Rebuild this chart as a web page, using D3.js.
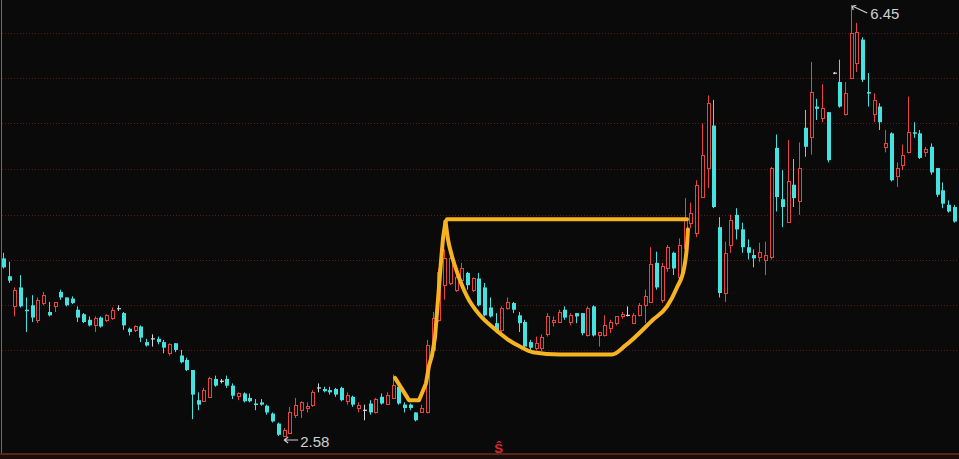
<!DOCTYPE html>
<html><head><meta charset="utf-8">
<script src="https://cdn.jsdelivr.net/npm/d3@7/dist/d3.min.js"></script>
<style>html,body{margin:0;padding:0;background:#0b0a0b;overflow:hidden}</style>
</head><body><svg id="chart" width="959" height="459"></svg>
<script>
const categories = d3.range(1, 168).map(d => "D" + d);
const open = [4.18,4.02,3.75,3.92,3.72,3.76,3.63,3.78,3.70,3.75,3.88,3.83,3.82,3.72,3.68,3.63,3.58,3.65,3.63,3.65,
3.73,3.69,3.55,3.54,3.57,3.43,3.46,3.46,3.43,3.33,3.42,3.31,3.27,3.18,2.91,2.90,2.94,3.10,3.08,3.10,
3.04,2.95,2.97,2.93,2.88,2.89,2.86,2.79,2.70,2.59,2.62,2.78,2.82,2.84,2.87,3.02,3.01,3.00,3.01,3.02,
2.90,2.94,2.84,2.82,2.88,2.80,2.94,2.88,2.93,3.03,2.87,2.87,2.80,2.80,2.80,3.36,3.63,3.94,3.96,3.90,
3.99,4.05,3.90,4.00,3.92,3.74,3.60,3.54,3.74,3.78,3.67,3.61,3.43,3.38,3.38,3.50,3.61,3.61,3.72,3.61,
3.69,3.69,3.49,3.75,3.49,3.49,3.56,3.60,3.66,3.67,3.60,3.67,3.76,3.79,4.14,3.81,4.09,4.23,4.01,4.27,
4.50,4.41,4.73,4.99,5.37,4.46,3.87,4.30,4.57,4.44,4.28,4.21,4.19,4.17,4.19,5.17,4.71,4.51,4.84,4.69,
5.35,5.27,5.54,5.44,5.49,5.84,5.76,5.47,5.80,5.93,6.14,5.67,5.47,5.54,5.18,5.30,4.92,5.02,5.13,5.31,
5.30,5.13,5.18,4.99,4.79,4.66,4.64];
const high = [4.23,4.15,3.92,4.03,3.83,3.85,3.83,3.88,3.79,3.79,3.90,3.83,3.84,3.75,3.69,3.66,3.66,3.66,3.68,3.74,
3.76,3.70,3.56,3.58,3.58,3.46,3.50,3.48,3.45,3.42,3.42,3.36,3.29,3.18,2.98,3.02,3.12,3.13,3.10,3.13,
3.06,2.98,2.98,2.97,2.92,2.92,2.87,2.80,2.71,2.66,2.85,2.93,2.90,2.89,3.00,3.06,3.03,3.03,3.02,3.03,
2.98,2.95,2.89,2.87,2.91,2.93,2.97,2.98,3.14,3.05,2.89,2.88,2.80,2.87,3.45,3.70,4.09,4.26,4.21,4.03,
4.14,4.06,4.01,4.05,3.96,3.83,3.69,3.75,3.83,3.79,3.70,3.63,3.45,3.48,3.50,3.69,3.66,3.72,3.75,3.69,
3.69,3.69,3.75,3.76,3.52,3.67,3.63,3.66,3.70,3.75,3.69,3.78,3.90,4.28,4.24,4.14,4.30,4.24,4.36,4.72,
4.68,4.88,5.39,5.64,5.60,4.55,4.33,4.57,4.63,4.50,4.35,4.26,4.32,4.33,5.00,5.29,4.97,5.24,5.07,5.22,
5.51,5.94,5.61,5.74,5.49,5.85,5.96,5.76,6.45,6.29,6.16,5.84,5.66,5.57,5.33,5.31,5.04,5.20,5.63,5.40,
5.33,5.18,5.21,4.99,4.86,4.70,4.66];
const low = [4.09,3.96,3.66,3.74,3.52,3.61,3.60,3.76,3.66,3.70,3.81,3.75,3.77,3.61,3.60,3.57,3.52,3.56,3.61,3.63,
3.71,3.54,3.49,3.52,3.43,3.39,3.39,3.41,3.33,3.31,3.34,3.24,3.17,2.74,2.82,2.90,2.94,3.03,3.06,3.02,
2.92,2.91,2.89,2.89,2.82,2.86,2.78,2.71,2.59,2.58,2.62,2.75,2.75,2.80,2.85,2.98,2.98,2.96,2.94,2.90,
2.87,2.85,2.80,2.73,2.78,2.79,2.87,2.87,2.92,2.87,2.80,2.82,2.72,2.80,2.79,3.34,3.61,3.81,3.94,3.88,
3.96,3.90,3.88,3.75,3.66,3.65,3.51,3.52,3.72,3.69,3.52,3.38,3.36,3.36,3.35,3.48,3.57,3.60,3.63,3.58,
3.60,3.49,3.48,3.48,3.39,3.48,3.51,3.58,3.64,3.66,3.60,3.66,3.60,3.78,3.90,3.78,4.06,4.03,3.99,4.26,
4.45,4.37,4.72,4.81,4.63,3.83,3.79,4.23,4.35,4.23,4.17,4.10,4.15,4.03,4.17,4.60,4.46,4.50,4.64,4.57,
5.09,5.11,5.42,5.40,5.04,5.83,5.53,5.46,5.79,5.85,5.76,5.54,5.40,5.33,5.13,4.87,4.82,4.97,5.12,5.26,
5.07,5.09,4.93,4.73,4.63,4.59,4.50];
const close = [4.10,3.98,3.90,3.75,3.71,3.65,3.81,3.85,3.67,3.79,3.83,3.76,3.78,3.65,3.61,3.58,3.65,3.57,3.67,3.72,
3.73,3.58,3.52,3.57,3.47,3.40,3.46,3.43,3.38,3.41,3.36,3.25,3.18,2.96,2.87,3.00,3.11,3.04,3.08,3.04,
2.95,2.97,2.90,2.90,2.87,2.87,2.80,2.72,2.60,2.64,2.80,2.87,2.89,2.86,2.98,3.02,2.99,2.98,2.96,2.91,
2.96,2.87,2.87,2.82,2.80,2.92,2.88,2.96,3.05,2.88,2.84,2.84,2.73,2.84,3.40,3.65,4.06,4.18,4.18,4.01,
4.09,3.94,4.00,3.76,3.67,3.66,3.52,3.74,3.79,3.72,3.60,3.39,3.38,3.42,3.48,3.66,3.63,3.70,3.65,3.67,
3.66,3.51,3.74,3.49,3.52,3.58,3.61,3.66,3.68,3.67,3.67,3.76,3.84,4.13,3.92,4.11,4.28,4.09,4.30,4.52,
4.59,4.84,5.11,5.57,4.64,3.87,4.23,4.52,4.44,4.28,4.23,4.18,4.24,4.21,4.99,4.73,4.64,4.87,4.72,4.99,
5.18,5.67,5.52,5.53,5.06,5.84,5.54,5.66,6.20,6.21,5.78,5.66,5.60,5.40,5.21,4.88,4.99,5.11,5.31,5.30,
5.08,5.16,4.95,4.75,4.67,4.60,4.51];
const gridPrices = [6.20, 5.80, 5.39, 4.98, 4.57, 4.17, 3.76, 3.36];
// hand-drawn cup & handle annotation: [candle index, price]
const handlePoints = [[68.26,3.11],[70.70,2.91],[72.45,2.91],[73.67,3.06],[74.20,3.22],[74.72,3.31],
[75.24,3.47],[75.77,3.81],[76.29,4.15],[76.64,4.36],[77.08,4.51]];
const cupPoints = [[77.08,4.51],[77.51,4.35],[78.21,4.20],[79.08,4.06],
[80.83,3.84],[83.10,3.67],[85.37,3.56],[87.81,3.46],[90.08,3.39],[92.35,3.34],[97.07,3.32],[106.15,3.32],
[108.50,3.40],[113.30,3.63],[115.75,3.75],[117.49,3.92],[118.72,4.09],[119.24,4.30],[119.41,4.44]];
const rimPoints = [[77.34,4.53],[119.24,4.53]];
const lowLabel = "2.58", highLabel = "6.45";
const signalIndex = 86, signalText = "Ŝ";

const W = 959, H = 459;
const BG = "#0b0a0b", RED = "#e8443e", CYAN = "#45e2e2", WHITE = "#d8d8d8", ORANGE = "#f7b420";
const svg = d3.select("#chart");
svg.append("rect").attr("width", W).attr("height", H).attr("fill", BG);

const x = d3.scaleBand().domain(categories).range([1.14, 957.7]).padding(0);
const step = x.step();
const xc = i => x(categories[0]) + step * (i + 0.5);
const y = d3.scaleLinear().domain([2.58, 6.45]).range([437, 5]);

// grid
svg.append("g").selectAll("line").data(gridPrices).join("line")
  .attr("x1", 2).attr("x2", W)
  .attr("y1", d => Math.round(y(d)) + 0.5).attr("y2", d => Math.round(y(d)) + 0.5)
  .attr("stroke", "#571b1b").attr("stroke-dasharray", "1,2").attr("stroke-width", 1);

// left border and bottom band
svg.append("line").attr("x1", 1.5).attr("x2", 1.5).attr("y1", 0).attr("y2", H).attr("stroke", "#6c6c6c");
svg.append("rect").attr("x", 0).attr("y", 453).attr("width", W).attr("height", 2).attr("fill", "#5a2418");
svg.append("rect").attr("x", 0).attr("y", 455).attr("width", W).attr("height", 4).attr("fill", "#1c0d0b");

// candles
const data = categories.map((c, i) => ({ c, i, o: open[i], h: high[i], l: low[i], cl: close[i] }));
const bw = 4;
const gC = svg.append("g");
gC.selectAll("g").data(data).join("g").each(function (d) {
  const g = d3.select(this);
  const left = Math.round(x(d.c) + step / 2 - bw / 2);
  const wx = left + 1.5;
  const col = d.cl > d.o ? RED : d.cl < d.o ? CYAN : WHITE;
  g.append("line").attr("x1", wx).attr("x2", wx).attr("y1", y(d.h)).attr("y2", y(d.l))
    .attr("stroke", col).attr("stroke-width", 1);
  const top = y(Math.max(d.o, d.cl)), bot = y(Math.min(d.o, d.cl));
  if (d.cl > d.o) {
    g.append("rect").attr("x", left + 0.5).attr("y", Math.round(top) + 0.5)
      .attr("width", bw - 1).attr("height", Math.max(1, Math.round(bot) - Math.round(top)))
      .attr("fill", BG).attr("stroke", RED).attr("stroke-width", 1);
  } else if (d.cl < d.o) {
    g.append("rect").attr("x", left).attr("y", top).attr("width", bw)
      .attr("height", Math.max(1.5, bot - top)).attr("fill", CYAN);
  } else {
    g.append("rect").attr("x", left).attr("y", top - 0.5).attr("width", bw)
      .attr("height", 1.2).attr("fill", WHITE);
  }
});

// cup & handle annotation
const handleLine = d3.line().x(d => xc(d[0])).y(d => y(d[1])).curve(d3.curveLinear);
const cupLine = d3.line().x(d => xc(d[0])).y(d => y(d[1])).curve(d3.curveMonotoneX);
svg.append("path").attr("d", handleLine(handlePoints)).attr("fill", "none").attr("stroke", ORANGE)
  .attr("stroke-width", 4).attr("stroke-linecap", "round").attr("stroke-linejoin", "round");
svg.append("path").attr("d", cupLine(cupPoints)).attr("fill", "none").attr("stroke", ORANGE)
  .attr("stroke-width", 4).attr("stroke-linecap", "round").attr("stroke-linejoin", "round");
svg.append("path").attr("d", d3.line().x(d => xc(d[0])).y(d => y(d[1]))(rimPoints)).attr("fill", "none")
  .attr("stroke", ORANGE).attr("stroke-width", 4).attr("stroke-linecap", "round");

// extreme labels
const lowIdx = low.indexOf(d3.min(low));
const highIdx = high.indexOf(d3.max(high));
const lx = xc(lowIdx) - 0.5, ly = y(d3.min(low)) + 3;
svg.append("path").attr("d", `M${lx},${ly} L${lx + 14},${ly} M${lx},${ly} l4,-3 M${lx},${ly} l4,3`)
  .attr("stroke", "#cfcfcf").attr("stroke-width", 1.2).attr("fill", "none");
svg.append("text").attr("x", lx + 16).attr("y", ly + 6.5).text(lowLabel)
  .attr("fill", "#cfcfcf").attr("font-family", "Liberation Sans, Arial, sans-serif").attr("font-size", 15);
const hx = xc(highIdx) + 0.5, hy = y(d3.max(high)) + 1;
svg.append("path").attr("d", `M${hx},${hy} L${hx + 15},${hy + 7} M${hx},${hy} l1,4 M${hx},${hy} l4,-0.5`)
  .attr("stroke", "#cfcfcf").attr("stroke-width", 1.2).attr("fill", "none");
svg.append("text").attr("x", hx + 18).attr("y", hy + 13).text(highLabel)
  .attr("fill", "#cfcfcf").attr("font-family", "Liberation Sans, Arial, sans-serif").attr("font-size", 15);

// signal marker
svg.append("text").attr("x", xc(signalIndex) + 2).attr("y", 453).attr("text-anchor", "middle")
  .text(signalText).attr("fill", "#e02a2a").attr("font-weight", "bold")
  .attr("font-family", "Liberation Sans, Arial, sans-serif").attr("font-size", 13);
</script></body></html>
